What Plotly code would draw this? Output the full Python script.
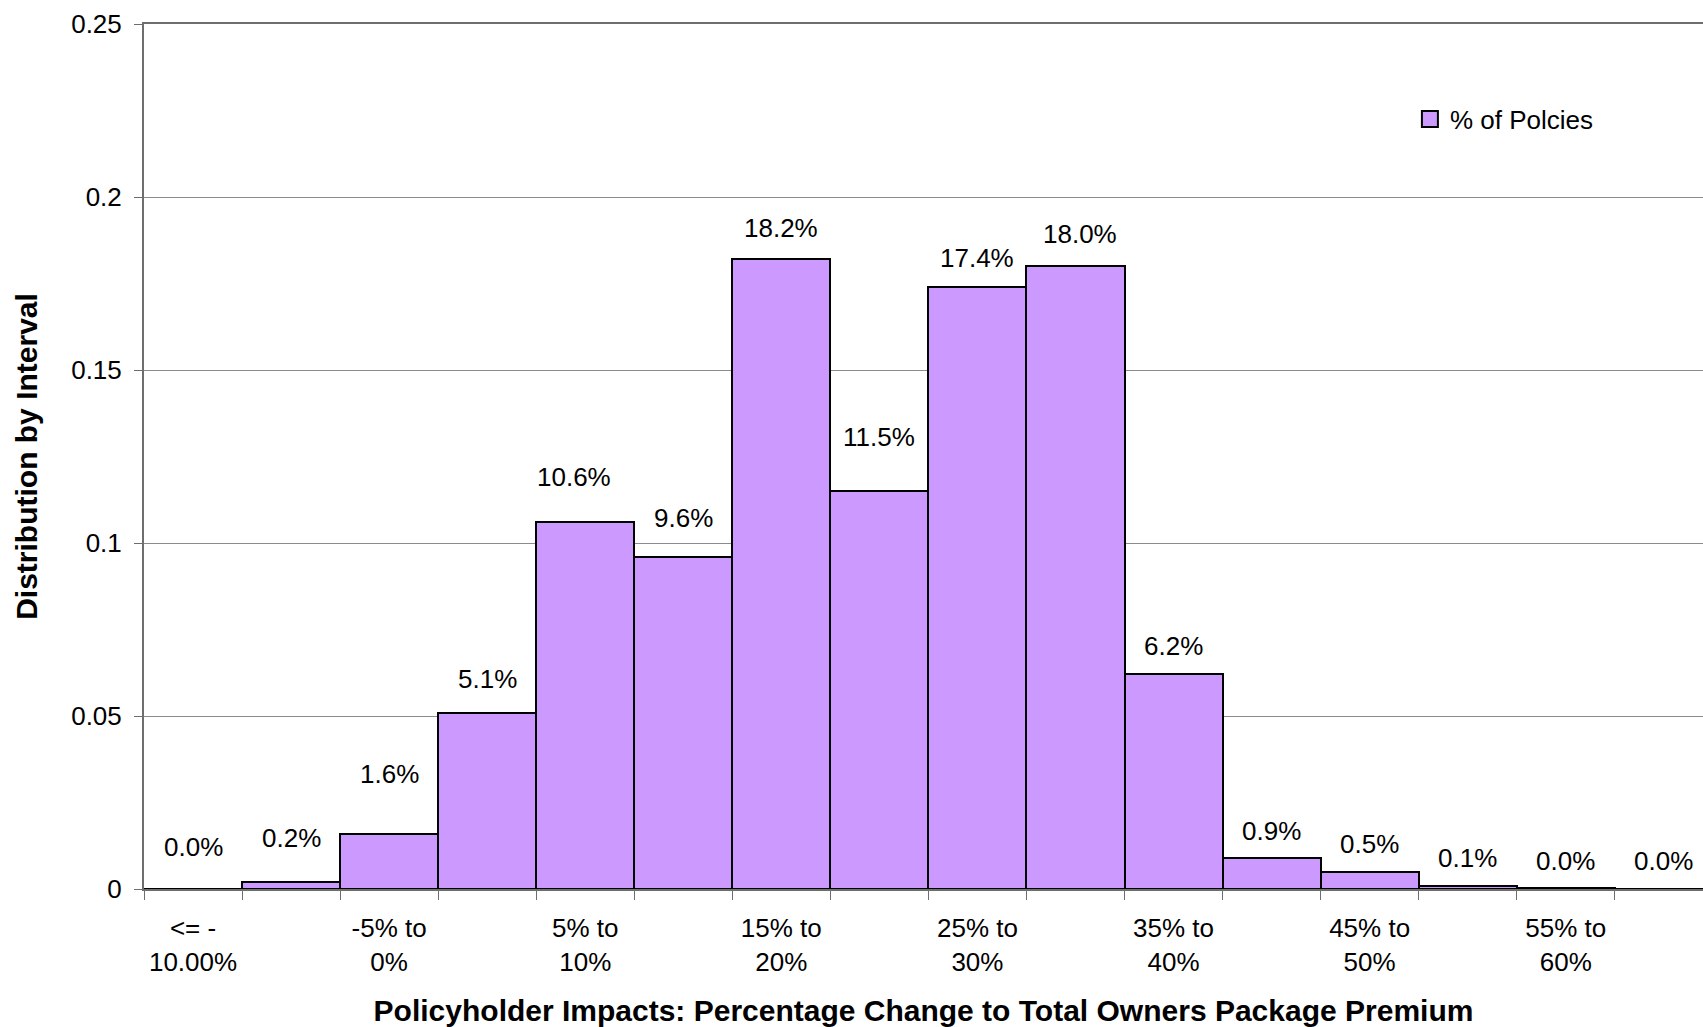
import plotly.graph_objects as go

# Distribution of policies by percentage change in total owners package premium
categories = [
    "<= -10.00%", "-10% to -5%", "-5% to 0%", "0% to 5%", "5% to 10%",
    "10% to 15%", "15% to 20%", "20% to 25%", "25% to 30%", "30% to 35%",
    "35% to 40%", "40% to 45%", "45% to 50%", "50% to 55%", "55% to 60%",
    "> 60%",
]
share_of_policies = [
    0.000, 0.002, 0.016, 0.051, 0.106, 0.096, 0.182, 0.115,
    0.174, 0.180, 0.062, 0.009, 0.005, 0.001, 0.0003, 0.000,
]
y_ticks = [0, 0.05, 0.1, 0.15, 0.2, 0.25]
series_name = "% of Polcies"
x_title = "Policyholder Impacts: Percentage Change to Total Owners Package Premium"
y_title = "Distribution by Interval"

# pixel offsets of each value label from the top centre of its bar
label_lift = [42, 44, 60, 34, 45, 39, 31, 54, 29, 32, 28, 27, 28, 28, 27, 28]
label_nudge = [0, 0, 0, 0, -11, 0, 0, 0, 0, 5, 0, 0, 0, 0, 0, 0]

BAR_FILL = "#CC99FF"
GRID = "#8c8c8c"
AXIS = "#6e6e6e"
FONT = "Liberation Sans, Arial, sans-serif"


def wrap(label):
    if label.startswith("<= -"):
        return "<= -<br>" + label[4:]
    return label.replace(" to ", " to<br>")


positions = list(range(len(categories)))
shown = positions[::2]

fig = go.Figure()
fig.add_trace(go.Bar(
    x=positions,
    y=share_of_policies,
    width=1.0,
    marker=dict(color=BAR_FILL, line=dict(color="black", width=2)),
    name=series_name,
    showlegend=False,
    hovertext=categories,
))
# legend entry with a larger swatch
fig.add_trace(go.Scatter(
    x=[None], y=[None], mode="markers", name=series_name,
    marker=dict(symbol="square", size=16, color=BAR_FILL,
                line=dict(color="black", width=2)),
))

for xi, v, lift, nudge in zip(positions, share_of_policies, label_lift, label_nudge):
    fig.add_annotation(
        x=xi, y=v, text=f"{v:.1%}", showarrow=False,
        xanchor="center", yanchor="middle", yshift=lift, xshift=nudge,
        font=dict(size=26, family=FONT, color="black"),
    )

fig.update_layout(
    width=1703, height=1027,
    margin=dict(l=144, r=0, t=24, b=138),
    paper_bgcolor="white", plot_bgcolor="white",
    bargap=0,
    font=dict(family=FONT, size=26, color="black"),
    legend=dict(x=0.812, y=0.89, xanchor="left", yanchor="middle",
                bgcolor="rgba(0,0,0,0)", font=dict(size=26)),
)

fig.update_xaxes(
    range=[-0.5, 15.40],
    tickmode="array", tickvals=shown,
    ticktext=[wrap(categories[i]) for i in shown],
    ticks="", showgrid=False, zeroline=False,
    showline=True, linecolor=AXIS, linewidth=2, mirror=True,
    tickfont=dict(size=26),
    ticklabelstandoff=15,
    minor=dict(tick0=0.5, dtick=1, ticks="outside", ticklen=9,
               tickcolor=AXIS, tickwidth=1, showgrid=False),
    title=dict(text=f"<b>{x_title}</b>", font=dict(size=30), standoff=24),
    fixedrange=True,
)
fig.update_yaxes(
    range=[0, 0.25],
    tickmode="array", tickvals=y_ticks,
    ticks="outside", ticklen=8, tickcolor=AXIS, tickwidth=1,
    ticklabelstandoff=7,
    showgrid=True, gridcolor=GRID, gridwidth=1,
    zeroline=False,
    showline=True, linecolor=AXIS, linewidth=2,
    tickfont=dict(size=26),
    title=dict(text=f"<b>{y_title}</b>", font=dict(size=30), standoff=25),
    fixedrange=True,
)

fig.write_html("out.html")
